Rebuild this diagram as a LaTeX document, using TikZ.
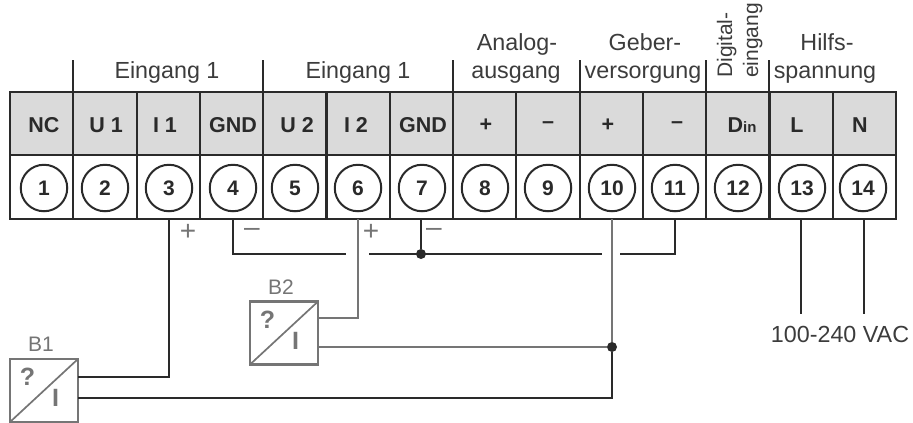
\documentclass[tikz,border=0pt]{standalone}
\usepackage{fontspec}
\setmainfont{Liberation Sans}
\definecolor{ink}{HTML}{2A2A2A}
\definecolor{soft}{HTML}{3C3C3C}
\definecolor{pale}{HTML}{757575}
\definecolor{headfill}{HTML}{DADADA}
\newcommand{\din}{D{\fontsize{15}{15}\selectfont in}}
\tikzset{
        cell/.style={draw=ink, line width=0.75mm, minimum width=63.29pt, minimum height=63.5pt, inner sep=0pt, outer sep=0pt},
        headcell/.style={cell, fill=headfill},
        headtext/.style={text=ink, inner sep=0pt, font=\fontsize{21.5}{21.5}\selectfont\bfseries},
        terminal/.style={circle, draw=ink, fill=white, line width=0.7mm, minimum size=46.5pt, inner sep=0pt, outer sep=0pt, text=ink, font=\fontsize{21}{21}\selectfont\bfseries},
        grouptext/.style={text=soft, inner sep=0pt, anchor=base, font=\fontsize{23.3}{23.3}\selectfont},
        sidetext/.style={text=soft, inner sep=0pt, rotate=90, anchor=base west, font=\fontsize{21}{21}\selectfont},
        signtext/.style={text=pale, inner sep=0pt, font=\fontsize{28}{28}\selectfont},
        sensor/.style={draw=pale, line width=0.8mm, minimum width=68pt, minimum height=63pt, inner sep=0pt, outer sep=0pt},
        sensortext/.style={text=pale, inner sep=0pt, anchor=base, font=\fontsize{21}{21}\selectfont},
        symtext/.style={text=pale, inner sep=0pt, font=\fontsize{25}{25}\selectfont\bfseries},
        groupline/.style={draw=ink, line width=0.7mm},
        wire/.style={draw=ink, line width=0.8mm},
        palewire/.style={draw=pale, line width=0.8mm},
        junction/.style={circle, fill=ink, inner sep=0pt, minimum size=10pt}
          }
\begin{document}
\begin{tikzpicture}[x=1pt,y=-1pt]
        \useasboundingbox (0,0) rectangle (913,423);
        % terminal block
        \foreach \i/\lab/\lx/\tx in {1/NC/44/44, 2/U 1/106/105, 3/I 1/165/169, 4/GND/233/233, 5/U 2/297/295, 6/I 2/356/358, 7/GND/423/422,
            8/+/486/485, 9/--/548/548, 10/+/608/612, 11/--/677/675, 12/\din/742/738, 13/L/797/802, 14/N/860/863}{
          \node[headcell] (h\i) at ({10+63.29*(\i-0.5)},123.5) {};
          \node[cell] (l\i) at ({10+63.29*(\i-0.5)},187) {};
          \node[headtext] (n\i) at (\lx,125) {\lab};
          \node[terminal] (t\i) at (\tx,188) {\i};
        }
        % group labels
        \foreach \gname/\gx/\gy/\lab in {ga/167/78/Eingang 1, gb/358/78/Eingang 1, gc/517/50/Analog-, gd/516/78/ausgang,
            ge/645/50/Geber-, gf/643/78/versorgung, gg/827/50/Hilfs-, gh/825/78/spannung, gi/840/342/100-240 VAC}{
          \node[grouptext] (\gname) at (\gx,\gy) {\lab};
        }
        \node[sidetext] (dg) at (732,78) {Digital-};
        \node[sidetext] (eg) at (758,78) {eingang};
        \foreach \i in {2,5,8,10,12,13}{
          \draw[groupline] (h\i.north west) -- ++(0,-32);
        }
        % sensors
        \foreach \bname/\bx/\by/\lab in {b1/44/390.5/B1, b2/284/333/B2}{
          \node[sensor] (\bname) at (\bx,\by) {};
          \draw[draw=pale, line width=0.6mm] (\bname.south west) -- (\bname.north east);
          \node[sensortext] (\bname t) at (\bx-3,\by-39) {\lab};
          \node[symtext] (\bname q) at (\bx-16.5,\by-13.5) {?};
          \node[symtext] (\bname i) at (\bx+11.5,\by+7.5) {I};
        }
        % signs
        \node[signtext] (s1) at (188,232) {+};
        \node[signtext] (s2) at (252,232) {--};
        \node[signtext] (s3) at (371,232) {+};
        \node[signtext] (s4) at (434,232) {--};
        % wiring
        \node[junction] (j1) at (421,254) {};
        \node[junction] (j2) at (612,347) {};
        \coordinate (g1) at (346,254);
        \coordinate (g2) at (369,254);
        \coordinate (g3) at (602,254);
        \coordinate (g4) at (620,254);
        \coordinate (e13) at (801,314);
        \coordinate (e14) at (864,314);
        \draw[wire] ([yshift=13.5pt]b1.east) -| (t3 |- l3.south);
        \draw[wire] ([yshift=-7.5pt]b1.east) -| (j2);
        \draw[palewire] ([yshift=15pt]b2.east) -| (t6 |- l6.south);
        \draw[palewire] ([yshift=-14pt]b2.east) -- (j2);
        \draw[palewire] (j2) -- (t10 |- l10.south);
        \draw[wire] (t4 |- l4.south) |- (g1);
        \draw[wire] (g2) -- (g3);
        \draw[wire] (g4) -| (t11 |- l11.south);
        \draw[wire] (j1 |- l7.south) -- (j1);
        \draw[wire] (e13 |- l13.south) -- (e13);
        \draw[wire] (e14 |- l14.south) -- (e14);
      \end{tikzpicture}
\end{document}
